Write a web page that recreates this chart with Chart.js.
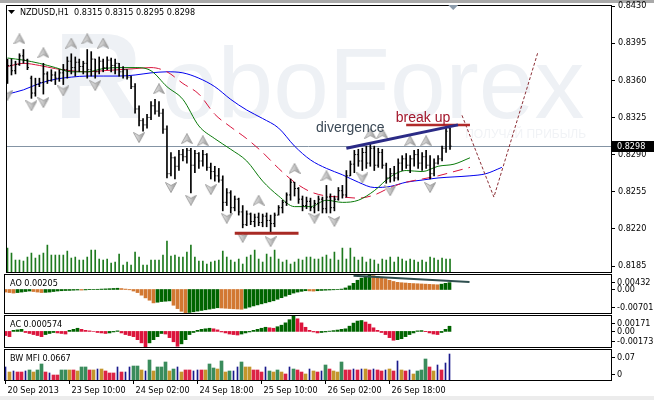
<!DOCTYPE html>
<html lang="en">
<head>
<meta charset="UTF-8">
<title>NZDUSD,H1</title>
<script src="https://cdn.jsdelivr.net/npm/chart.js@4"></script>
<style>
  html, body { margin: 0; padding: 0; background: #fff; }
  #wrap { position: relative; width: 654px; height: 400px; overflow: hidden; background: #fff; }
  #wrap canvas { position: absolute; left: 0; }
  .strip { position: absolute; left: 0; width: 654px; }
</style>
</head>
<body>
<div id="wrap">
  <div class="strip" style="top:0;height:3px;background:#a9a9a9"></div>
  <div class="strip" style="top:396px;height:4px;background:#ececec"></div>
  <canvas id="mainChart" width="654" height="280" style="top:0"></canvas>
  <canvas id="aoChart" width="654" height="58" style="top:265px"></canvas>
  <canvas id="acChart" width="654" height="51" style="top:306px"></canvas>
  <canvas id="mfiChart" width="654" height="60" style="top:340px"></canvas>
</div>
<script>
// --- price bars, one per hour (index 0 = 20 Sep 2013) ---
const OPEN = [0.8363,0.8374,0.8369,0.8375,0.8383,0.8379,0.8362,0.8348,0.8356,0.8358,
  0.8366,0.8360,0.8365,0.8362,0.8367,0.8370,0.8378,0.8372,0.8377,0.8373,
  0.8376,0.8370,0.8380,0.8368,0.8378,0.8372,0.8379,0.8374,0.8376,0.8368,
  0.8370,0.8363,0.8354,0.8333,0.8322,0.8318,0.8325,0.8336,0.8331,0.8329,
  0.8314,0.8272,0.8287,0.8279,0.8290,0.8288,0.8294,0.8280,0.8291,0.8284,
  0.8290,0.8278,0.8274,0.8270,0.8266,0.8245,0.8254,0.8240,0.8248,0.8236,
  0.8224,0.8234,0.8227,0.8231,0.8226,0.8232,0.8228,0.8225,0.8233,0.8240,
  0.8245,0.8252,0.8264,0.8258,0.8248,0.8242,0.8246,0.8240,0.8244,0.8248,
  0.8239,0.8250,0.8240,0.8248,0.8256,0.8252,0.8270,0.8281,0.8290,0.8284,
  0.8292,0.8282,0.8296,0.8280,0.8292,0.8280,0.8268,0.8272,0.8268,0.8282,
  0.8286,0.8280,0.8286,0.8290,0.8282,0.8288,0.8280,0.8272,0.8282,0.8286,
  0.8296,0.8315];
const HIGH = [0.8380,0.8380,0.8378,0.8385,0.8389,0.8380,0.8364,0.8362,0.8362,0.8376,
  0.8368,0.8370,0.8368,0.8370,0.8375,0.8382,0.8385,0.8382,0.8380,0.8378,
  0.8389,0.8387,0.8380,0.8382,0.8380,0.8382,0.8381,0.8380,0.8376,0.8373,
  0.8370,0.8364,0.8357,0.8336,0.8324,0.8328,0.8340,0.8342,0.8340,0.8333,
  0.8317,0.8292,0.8288,0.8294,0.8295,0.8296,0.8296,0.8294,0.8292,0.8294,
  0.8291,0.8282,0.8279,0.8277,0.8270,0.8258,0.8256,0.8251,0.8249,0.8242,
  0.8237,0.8235,0.8234,0.8235,0.8234,0.8235,0.8233,0.8235,0.8242,0.8247,
  0.8254,0.8267,0.8264,0.8259,0.8251,0.8250,0.8249,0.8247,0.8251,0.8250,
  0.8261,0.8253,0.8251,0.8259,0.8261,0.8275,0.8284,0.8294,0.8295,0.8296,
  0.8298,0.8300,0.8298,0.8296,0.8295,0.8282,0.8277,0.8279,0.8286,0.8289,
  0.8291,0.8289,0.8294,0.8295,0.8292,0.8294,0.8289,0.8286,0.8289,0.8298,
  0.8315,0.8315];
const LOW = [0.8357,0.8365,0.8366,0.8374,0.8376,0.8370,0.8343,0.8345,0.8354,0.8347,
  0.8357,0.8359,0.8356,0.8359,0.8356,0.8362,0.8366,0.8364,0.8368,0.8366,
  0.8362,0.8364,0.8362,0.8366,0.8368,0.8370,0.8368,0.8366,0.8364,0.8362,
  0.8361,0.8352,0.8329,0.8317,0.8312,0.8315,0.8323,0.8328,0.8326,0.8310,
  0.8268,0.8270,0.8267,0.8275,0.8284,0.8282,0.8254,0.8273,0.8277,0.8279,
  0.8275,0.8267,0.8265,0.8264,0.8237,0.8242,0.8235,0.8237,0.8233,0.8221,
  0.8223,0.8224,0.8222,0.8223,0.8222,0.8222,0.8217,0.8222,0.8233,0.8235,
  0.8242,0.8247,0.8251,0.8244,0.8237,0.8239,0.8237,0.8235,0.8237,0.8235,
  0.8235,0.8235,0.8237,0.8247,0.8249,0.8250,0.8270,0.8273,0.8279,0.8275,
  0.8277,0.8279,0.8275,0.8278,0.8277,0.8263,0.8264,0.8265,0.8266,0.8275,
  0.8277,0.8273,0.8279,0.8277,0.8275,0.8277,0.8267,0.8270,0.8281,0.8284,
  0.8292,0.8295];
const CLOSE = [0.8374,0.8369,0.8375,0.8383,0.8379,0.8372,0.8348,0.8356,0.8358,0.8366,
  0.8360,0.8365,0.8362,0.8367,0.8370,0.8378,0.8372,0.8377,0.8373,0.8376,
  0.8370,0.8380,0.8368,0.8378,0.8372,0.8379,0.8374,0.8376,0.8368,0.8370,
  0.8363,0.8354,0.8333,0.8322,0.8318,0.8325,0.8336,0.8331,0.8329,0.8314,
  0.8272,0.8287,0.8279,0.8290,0.8288,0.8294,0.8280,0.8291,0.8284,0.8290,
  0.8278,0.8274,0.8270,0.8266,0.8245,0.8254,0.8240,0.8248,0.8236,0.8224,
  0.8234,0.8227,0.8231,0.8226,0.8232,0.8228,0.8225,0.8233,0.8240,0.8245,
  0.8252,0.8264,0.8258,0.8248,0.8242,0.8246,0.8240,0.8244,0.8248,0.8239,
  0.8250,0.8240,0.8248,0.8256,0.8252,0.8270,0.8281,0.8290,0.8284,0.8292,
  0.8282,0.8296,0.8280,0.8292,0.8280,0.8268,0.8272,0.8268,0.8282,0.8286,
  0.8280,0.8286,0.8290,0.8282,0.8288,0.8280,0.8272,0.8282,0.8286,0.8296,
  0.8312,0.8298];
// tick volume
const VOLUME = [2400,1900,1200,1200,1100,1500,1900,1400,1700,1900,
  2700,1700,1700,1700,1700,2100,1400,1500,1200,1200,
  1500,2200,2200,1300,1200,1300,900,1000,1800,700,
  1000,700,2000,1500,700,700,1200,1200,1200,1700,
  3100,1600,1700,1500,1500,2000,2700,1500,1100,1100,
  800,1000,1100,1200,2100,1500,1200,1000,1300,800,
  1500,1700,2200,1300,1000,1800,1500,2200,1300,1000,
  1200,800,1000,1300,1200,1500,1500,1300,1300,1500,
  1700,1300,2000,1200,2400,1300,2400,1500,1200,1500,
  1000,1300,1200,800,1300,1200,1500,1000,1500,1300,
  1100,1300,1200,1000,1200,1000,1500,1400,1200,1400,
  1300,1300];

// Alligator lines, read every 4th bar (they run past the last bar)
const MA_IDX = [0,4,8,12,16,20,24,28,32,36,40,44,48,52,56,60,64,68,72,76,
  80,84,88,92,96,100,104,108,112,116,120,124];
const LIPS = [0.8381,0.8379,0.8376,0.8372,0.8368,0.8368,0.8371,0.8372,0.8372,0.8369,
  0.8354,0.8342,0.8317,0.8305,0.8295,0.8284,0.8265,0.8251,0.8241,0.8241,
  0.8247,0.8245,0.8247,0.8256,0.8269,0.8275,0.8274,0.8279,0.8281,0.8287];
const TEETH = [0.8373,0.8376,0.8374,0.8371,0.8369,0.8368,0.8369,0.8370,0.8371,0.8372,
  0.8368,0.8357,0.8347,0.8328,0.8316,0.8305,0.8292,0.8277,0.8264,0.8255,
  0.8251,0.8250,0.8249,0.8252,0.8259,0.8264,0.8267,0.8270,0.8274,0.8278];
const JAW = [0.8347,0.8351,0.8357,0.8361,0.8363,0.8364,0.8364,0.8364,0.8365,0.8367,
  0.8368,0.8367,0.8362,0.8354,0.8342,0.8332,0.8324,0.8315,0.8298,0.8285,
  0.8277,0.8271,0.8264,0.8259,0.8260,0.8264,0.8266,0.8268,0.8269,0.8270,
  0.8272,0.8278];

// fractals
const UP_IDX = [3,9,16,20,24,38,45,49,63,72,80,91,94,101,105];
const UP_PRICE = [0.8399,0.8386,0.8395,0.8399,0.8395,0.8352,0.8305,0.8303,0.8247,0.8277,
  0.8270,0.8310,0.8310,0.8303,0.8303];
const DOWN_IDX = [0,6,9,14,22,33,41,46,51,55,59,66,77,82,89,96,106];
const DOWN_PRICE = [0.8346,0.8336,0.8339,0.8350,0.8355,0.8306,0.8259,0.8247,0.8257,0.8230,
  0.8212,0.8208,0.8230,0.8227,0.8268,0.8256,0.8259];

// hand-drawn objects
const DIV_X = [85, 113], DIV_Y = [0.8296, 0.8318];
const BREAK_X = [100, 116], BREAK_Y = [0.8318, 0.8318];
const SUPPORT_X = [57, 73], SUPPORT_Y = [0.8216, 0.8216];
const PATH_X = [114, 122, 133], PATH_Y = [0.8327, 0.8250, 0.8386];
const NOTE_TEXT = ['divergence', 'break up'];
const NOTE_X = [77.4, 97.4];
const NOTE_Y = [0.8311, 0.8321];

// Awesome Oscillator
const AO = [-0.00077,-0.00092,-0.00107,-0.00092,-0.00077,-0.00061,-0.00046,-0.00061,-0.00077,-0.00092,
  -0.00086,-0.00077,-0.00061,-0.00046,-0.00037,-0.00031,-0.00028,-0.00021,-0.00015,-0.00018,
  -0.00012,-0.00006,0.00003,0.00006,0.00012,0.00018,0.00024,0.00031,0.00037,0.00028,
  0.00012,-0.00009,-0.00046,-0.00092,-0.00170,-0.00250,-0.00320,-0.00400,-0.00380,-0.00360,
  -0.00350,-0.00340,-0.00470,-0.00570,-0.00650,-0.00701,-0.00685,-0.00665,-0.00645,-0.00625,
  -0.00605,-0.00585,-0.00565,-0.00545,-0.00552,-0.00560,-0.00568,-0.00575,-0.00582,-0.00590,
  -0.00560,-0.00525,-0.00490,-0.00459,-0.00428,-0.00398,-0.00367,-0.00337,-0.00291,-0.00245,
  -0.00199,-0.00153,-0.00107,-0.00077,-0.00055,-0.00037,-0.00043,-0.00049,-0.00037,-0.00028,
  -0.00021,-0.00015,-0.00009,-0.00003,0.00012,0.00046,0.00107,0.00184,0.00275,0.00337,
  0.00398,0.00432,0.00413,0.00392,0.00367,0.00321,0.00275,0.00239,0.00214,0.00202,
  0.00193,0.00184,0.00177,0.00171,0.00165,0.00159,0.00153,0.00147,0.00141,0.00159,
  0.00184,0.00205];
const AO_LINE_X = [87, 116], AO_LINE_Y = [0.0041, 0.0022];
const AO_TICKS = [0.00432, 0, -0.00701];
const AO_TICK_LABELS = ['0.00432', '0.00', '-0.00701'];

// Accelerator Oscillator
const AC = [-0.00046,-0.00058,0.00012,0.00017,0.00023,-0.00012,-0.00023,-0.00035,-0.00046,-0.00058,
  -0.00035,-0.00023,-0.00012,-0.00017,-0.00023,-0.00029,0.00012,0.00023,0.00035,0.00023,
  0.00012,0.00006,0.00000,-0.00012,-0.00017,-0.00023,-0.00017,-0.00006,0.00006,-0.00017,
  -0.00035,-0.00046,-0.00058,-0.00092,-0.00127,-0.00173,-0.00127,-0.00092,-0.00058,-0.00023,
  -0.00029,-0.00069,-0.00115,-0.00165,-0.00138,-0.00092,-0.00035,-0.00012,0.00012,0.00023,
  0.00029,0.00035,0.00029,0.00017,-0.00006,-0.00017,-0.00029,-0.00035,-0.00040,-0.00029,
  -0.00017,-0.00006,0.00012,0.00023,0.00035,0.00046,0.00040,0.00035,0.00052,0.00069,
  0.00095,0.00130,0.00171,0.00140,0.00095,0.00046,0.00012,-0.00006,-0.00017,-0.00012,
  -0.00006,0.00003,0.00009,0.00015,0.00023,0.00029,0.00058,0.00092,0.00115,0.00121,
  0.00104,0.00081,0.00040,0.00012,-0.00012,-0.00035,-0.00069,-0.00098,-0.00092,-0.00081,
  -0.00058,-0.00035,-0.00017,0.00006,0.00009,-0.00003,-0.00017,-0.00029,-0.00035,-0.00012,
  0.00023,0.000574];
const AC_TICKS = [0.00171, 0, -0.00173];
const AC_TICK_LABELS = ['0.00171', '0.00', '-0.00173'];

// Market Facilitation Index; state: g = green, b = fade, n = fake, p = squat
const MFI = [0.0334,0.0205,0.0231,0.0205,0.0205,0.0231,0.0257,0.0205,0.0257,0.0411,
  0.0205,0.0180,0.0128,0.0128,0.0257,0.0257,0.0257,0.0257,0.0231,0.0334,
  0.0334,0.0257,0.0257,0.0282,0.0282,0.0231,0.0180,0.0180,0.0334,0.0205,
  0.0205,0.0334,0.0359,0.0359,0.0257,0.0231,0.0513,0.0231,0.0334,0.0334,
  0.0462,0.0231,0.0282,0.0334,0.0205,0.0257,0.0257,0.0231,0.0257,0.0257,
  0.0257,0.0411,0.0308,0.0282,0.0488,0.0205,0.0231,0.0231,0.0334,0.0462,
  0.0334,0.0334,0.0257,0.0257,0.0205,0.0334,0.0231,0.0205,0.0257,0.0205,
  0.0154,0.0334,0.0282,0.0257,0.0205,0.0154,0.0282,0.0231,0.0205,0.0231,
  0.0385,0.0282,0.0231,0.0205,0.0462,0.0257,0.0257,0.0282,0.0257,0.0282,
  0.0282,0.0257,0.0282,0.0257,0.0231,0.0257,0.0282,0.0231,0.0488,0.0257,
  0.0231,0.0257,0.0154,0.0231,0.0257,0.0539,0.0334,0.0231,0.0385,0.0257,
  0.0436,0.0667];
const MFI_STATE = ['n','b','n','p','p','n','g','b','g','g',
  'p','n','p','p','g','g','b','p','b','g',
  'g','p','b','n','b','p','p','p','n','p',
  'n','n','g','g','b','n','g','b','g','g',
  'g','b','g','n','b','p','p','n','n','p',
  'b','g','g','b','g','b','g','n','n','g',
  'b','b','p','p','p','n','g','b','g','b',
  'p','n','g','p','p','b','n','b','p','n',
  'g','p','b','b','g','p','p','n','p','n',
  'b','p','n','p','p','n','b','p','n','b',
  'p','n','b','g','g','g','p','b','n','p',
  'n','n'];
const MFI_TICKS = [0.07, 0];
const MFI_TICK_LABELS = ['0.07', '0'];

// time axis
const DATE_IDX = [0, 16, 32, 48, 64, 80, 96];
const DATE_LABELS = ['20 Sep 2013', '23 Sep 10:00', '24 Sep 02:00', '24 Sep 18:00',
  '25 Sep 10:00', '26 Sep 02:00', '26 Sep 18:00'];
const PRICE_TICKS = [0.8430, 0.8395, 0.8360, 0.8325, 0.8290, 0.8255, 0.8220, 0.8185];

const FONT = "'DejaVu Sans Condensed', 'DejaVu Sans', sans-serif";
Chart.defaults.font.family = FONT;
Chart.defaults.font.size = 9;
Chart.defaults.color = '#000';

const LAST = CLOSE.length - 1;
const GREEN = '#006400', ORANGE = '#d27832', CRIMSON = '#dc143c';
const MFI_COLORS = { g: '#3a8c5c', b: '#c4962c', p: '#dc2346', n: '#1a1a8c' };

function xAxis() {
  return { type: 'linear', min: -0.375, max: 151.375, offset: false, display: false };
}
function baseOptions(padding) {
  return {
    responsive: false, animation: false, events: [], devicePixelRatio: 1,
    layout: { padding: padding },
    plugins: { legend: { display: false }, tooltip: { enabled: false } }
  };
}
function pts(xs, ys) { return xs.map((x, k) => ({ x: x, y: ys[k] })); }

// fractal arrow glyph
function makeArrow(down) {
  const c = document.createElement('canvas');
  c.width = 12; c.height = 11;
  const g = c.getContext('2d');
  if (down) { g.translate(0, 11); g.scale(1, -1); }
  const grad = g.createLinearGradient(0, 0, 12, 0);
  grad.addColorStop(0, '#f2f2f2'); grad.addColorStop(0.5, '#c6c6c6'); grad.addColorStop(1, '#8a8a8a');
  g.beginPath();
  g.moveTo(6, 0.5); g.lineTo(11.5, 10.5); g.lineTo(6, 7.5); g.lineTo(0.5, 10.5); g.closePath();
  g.fillStyle = grad; g.fill();
  g.strokeStyle = '#a0a0a0'; g.lineWidth = 1; g.stroke();
  return c;
}

function drawFrame(ctx, a) {
  ctx.strokeStyle = '#000'; ctx.lineWidth = 1;
  ctx.strokeRect(a.left + 0.5, a.top - 0.5, a.right - a.left, a.bottom - a.top + 1);
}

const mainDecor = {
  id: 'mainDecor',
  beforeDatasetsDraw(chart) {
    const { ctx, chartArea: a, scales } = chart;
    ctx.save();
    ctx.beginPath(); ctx.rect(a.left, a.top, a.right - a.left, a.bottom - a.top); ctx.clip();
    // broker watermark
    ctx.fillStyle = '#eef1f5';
    ctx.font = "bold 122px 'Liberation Sans', Arial, sans-serif";
    ctx.fillText('R', 54, 118);
    ctx.font = "100px 'Liberation Sans', Arial, sans-serif";
    ctx.fillText('oboForex', 162, 118);
    ctx.font = "12px 'Liberation Sans', Arial, sans-serif";
    ctx.textAlign = 'right';
    ctx.fillStyle = '#f1f3f6';
    ctx.fillText('ПОЛУЧАЙ ПРИБЫЛЬ', 586, 138);
    // bid line
    const y = Math.floor(scales.y.getPixelForValue(CLOSE[LAST])) + 0.5;
    ctx.strokeStyle = '#8494a4'; ctx.lineWidth = 1;
    ctx.beginPath(); ctx.moveTo(a.left, y); ctx.lineTo(a.right, y); ctx.stroke();
    ctx.restore();
  },
  afterDraw(chart) {
    const { ctx, chartArea: a, scales } = chart;
    ctx.save();
    drawFrame(ctx, a);
    // notes
    ctx.font = "14px 'Liberation Sans', Arial, sans-serif";
    ctx.textBaseline = 'alphabetic';
    NOTE_TEXT.forEach((t, k) => {
      ctx.fillStyle = k === 0 ? '#3b4956' : '#a3162b';
      ctx.fillText(t, scales.x.getPixelForValue(NOTE_X[k]), scales.y.getPixelForValue(NOTE_Y[k]));
    });
    // title
    ctx.fillStyle = '#000';
    ctx.beginPath(); ctx.moveTo(8, 10); ctx.lineTo(15, 10); ctx.lineTo(11.5, 14); ctx.closePath(); ctx.fill();
    ctx.font = '9px ' + FONT;
    ctx.textBaseline = 'middle';
    ctx.fillText('NZDUSD,H1  ' + [OPEN[LAST], HIGH[LAST], LOW[LAST], CLOSE[LAST]].map(v => v.toFixed(4)).join(' '), 20, 12.5);
    // shift marker
    const sx = scales.x.getPixelForValue(111.8);
    ctx.fillStyle = '#8c9cac';
    ctx.beginPath(); ctx.moveTo(sx - 5, 5); ctx.lineTo(sx + 5, 5); ctx.lineTo(sx, 10); ctx.closePath(); ctx.fill();
    // bid label on the price scale
    const y = Math.floor(scales.y.getPixelForValue(CLOSE[LAST])) + 0.5;
    ctx.fillStyle = '#000';
    ctx.fillRect(a.right + 1, y - 5.5, 654 - a.right - 1, 11);
    ctx.fillStyle = '#fff';
    ctx.fillText(CLOSE[LAST].toFixed(4), a.right + 6, y);
    ctx.restore();
  }
};

function panelDecor(id, title, ticks, labels) {
  return {
    id: id,
    afterDraw(chart) {
      const { ctx, chartArea: a, scales } = chart;
      ctx.save();
      drawFrame(ctx, a);
      ctx.font = '9px ' + FONT;
      ctx.fillStyle = '#000';
      ctx.textBaseline = 'middle';
      ctx.fillText(title, a.left + 6, a.top + 8.5);
      ticks.forEach((v, k) => {
        let y = scales.y.getPixelForValue(v);
        y = Math.round(Math.min(Math.max(y, a.top + 7), a.bottom - 6)) + 0.5;
        ctx.beginPath(); ctx.moveTo(a.right + 1, y); ctx.lineTo(a.right + 4, y); ctx.stroke();
        ctx.fillText(labels[k], a.right + 6, y);
      });
      ctx.restore();
    }
  };
}

// --- main window ---
const idx = CLOSE.map((_, i) => i);
new Chart(document.getElementById('mainChart'), {
  type: 'bar',
  data: {
    datasets: [
      { type: 'line', data: pts(DIV_X, DIV_Y), borderColor: '#2b2b86', borderWidth: 3, pointRadius: 0, order: 0 },
      { type: 'line', data: pts(BREAK_X, BREAK_Y), borderColor: '#b02a2a', borderWidth: 2.5, pointRadius: 0, order: 0 },
      { type: 'line', data: pts(SUPPORT_X, SUPPORT_Y), borderColor: '#a82a24', borderWidth: 3, pointRadius: 0, order: 0 },
      { type: 'line', data: pts(PATH_X, PATH_Y), borderColor: '#8b2f36', borderWidth: 1, borderDash: [3, 2], pointRadius: 0, order: 0 },
      { type: 'bar', data: idx.map(i => ({ x: i, y: [LOW[i], HIGH[i]] })), backgroundColor: '#000',
        barThickness: 1, grouped: false, order: 2 },
      { type: 'line', data: idx.map(i => ({ x: i - 0.25, y: OPEN[i] })), showLine: false,
        pointStyle: 'line', pointRadius: 0.5, pointBorderColor: '#000', pointBorderWidth: 1, order: 2 },
      { type: 'line', data: idx.map(i => ({ x: i + 0.25, y: CLOSE[i] })), showLine: false,
        pointStyle: 'line', pointRadius: 0.5, pointBorderColor: '#000', pointBorderWidth: 1, order: 2 },
      { type: 'line', data: pts(UP_IDX, UP_PRICE), showLine: false, pointStyle: makeArrow(false), pointRadius: 5, order: 3 },
      { type: 'line', data: pts(DOWN_IDX, DOWN_PRICE), showLine: false, pointStyle: makeArrow(true), pointRadius: 5, order: 3 },
      { type: 'line', data: pts(MA_IDX, LIPS), borderColor: '#0a7a0a', borderWidth: 1, pointRadius: 0,
        cubicInterpolationMode: 'monotone', order: 5 },
      { type: 'line', data: pts(MA_IDX, TEETH), borderColor: '#d8143c', borderWidth: 1, pointRadius: 0,
        cubicInterpolationMode: 'monotone', order: 5,
        segment: { borderDash: c => c.p0.parsed.x >= 36 ? [10, 6] : undefined } },
      { type: 'line', data: pts(MA_IDX, JAW), borderColor: '#0000ee', borderWidth: 1, pointRadius: 0,
        cubicInterpolationMode: 'monotone', order: 5 },
      { type: 'bar', yAxisID: 'yv', data: idx.map(i => ({ x: i, y: VOLUME[i] })), backgroundColor: '#1e7a1e',
        barThickness: 1, grouped: false, order: 10 }
    ]
  },
  options: Object.assign(baseOptions({ left: 4, top: 5, right: 0, bottom: 8 }), {
    scales: {
      x: xAxis(),
      y: {
        position: 'right', min: 0.81794, max: 0.8430,
        afterBuildTicks: s => { s.ticks = PRICE_TICKS.map(v => ({ value: v })); },
        afterFit: s => { s.width = 43; s.paddingTop = 0; s.paddingBottom = 0; },
        ticks: { callback: v => v.toFixed(4), padding: 3, autoSkip: false },
        grid: { drawOnChartArea: false, drawTicks: true, tickLength: 4, color: '#000' },
        border: { display: false }
      },
      yv: { display: false, min: 0, max: 26700 }
    }
  }),
  plugins: [mainDecor]
});

// --- AO ---
new Chart(document.getElementById('aoChart'), {
  type: 'bar',
  data: {
    datasets: [
      { type: 'line', data: pts(AO_LINE_X, AO_LINE_Y), borderColor: '#2f4f4f', borderWidth: 2, pointRadius: 0, order: 0 },
      { data: AO.map((v, i) => ({ x: i, y: v })),
        backgroundColor: AO.map((v, i) => (i > 0 && v > AO[i - 1]) ? GREEN : ORANGE),
        barThickness: 3, grouped: false, order: 1 }
    ]
  },
  options: Object.assign(baseOptions({ left: 4, top: 10, right: 43, bottom: 10 }), {
    scales: { x: xAxis(), y: { display: false, min: -0.00701, max: 0.00432 } }
  }),
  plugins: [panelDecor('aoDecor', 'AO ' + AO[LAST].toFixed(5), AO_TICKS, AO_TICK_LABELS)]
});

// --- AC ---
new Chart(document.getElementById('acChart'), {
  type: 'bar',
  data: {
    datasets: [
      { data: AC.map((v, i) => ({ x: i, y: v })),
        backgroundColor: AC.map((v, i) => (i > 0 && v > AC[i - 1]) ? GREEN : CRIMSON),
        barThickness: 3, grouped: false }
    ]
  },
  options: Object.assign(baseOptions({ left: 4, top: 10, right: 43, bottom: 10 }), {
    scales: { x: xAxis(), y: { display: false, min: -0.00173, max: 0.00171 } }
  }),
  plugins: [panelDecor('acDecor', 'AC ' + AC[LAST].toFixed(6), AC_TICKS, AC_TICK_LABELS)]
});

// --- BW MFI + time axis ---
new Chart(document.getElementById('mfiChart'), {
  type: 'bar',
  data: {
    datasets: [
      { data: MFI.map((v, i) => ({ x: i, y: MFI_STATE[i] === 'n' ? null : v })),
        backgroundColor: MFI_STATE.map(s => MFI_COLORS[s]), barThickness: 3, grouped: false },
      { data: MFI.map((v, i) => ({ x: i, y: MFI_STATE[i] === 'n' ? v : null })),
        backgroundColor: MFI_COLORS.n, barThickness: 1, grouped: false }
    ]
  },
  options: Object.assign(baseOptions({ left: 4, top: 10, right: 43, bottom: 2 }), {
    scales: {
      x: {
        type: 'linear', min: -0.375, max: 151.375, offset: false, position: 'bottom',
        afterBuildTicks: s => { s.ticks = DATE_IDX.map(v => ({ value: v })); },
        afterFit: s => { s.height = 18; s.paddingLeft = 0; s.paddingRight = 0; },
        ticks: { callback: (v, k) => DATE_LABELS[k], align: 'start', labelOffset: 2, padding: 1,
          autoSkip: false, maxRotation: 0 },
        grid: { offset: false, drawOnChartArea: false, drawTicks: true, tickLength: 4, color: '#000' },
        border: { display: false }
      },
      y: { display: false, min: 0, max: 0.077 }
    }
  }),
  plugins: [panelDecor('mfiDecor', 'BW MFI ' + MFI[LAST].toFixed(4), MFI_TICKS, MFI_TICK_LABELS)]
});
</script>
</body>
</html>
